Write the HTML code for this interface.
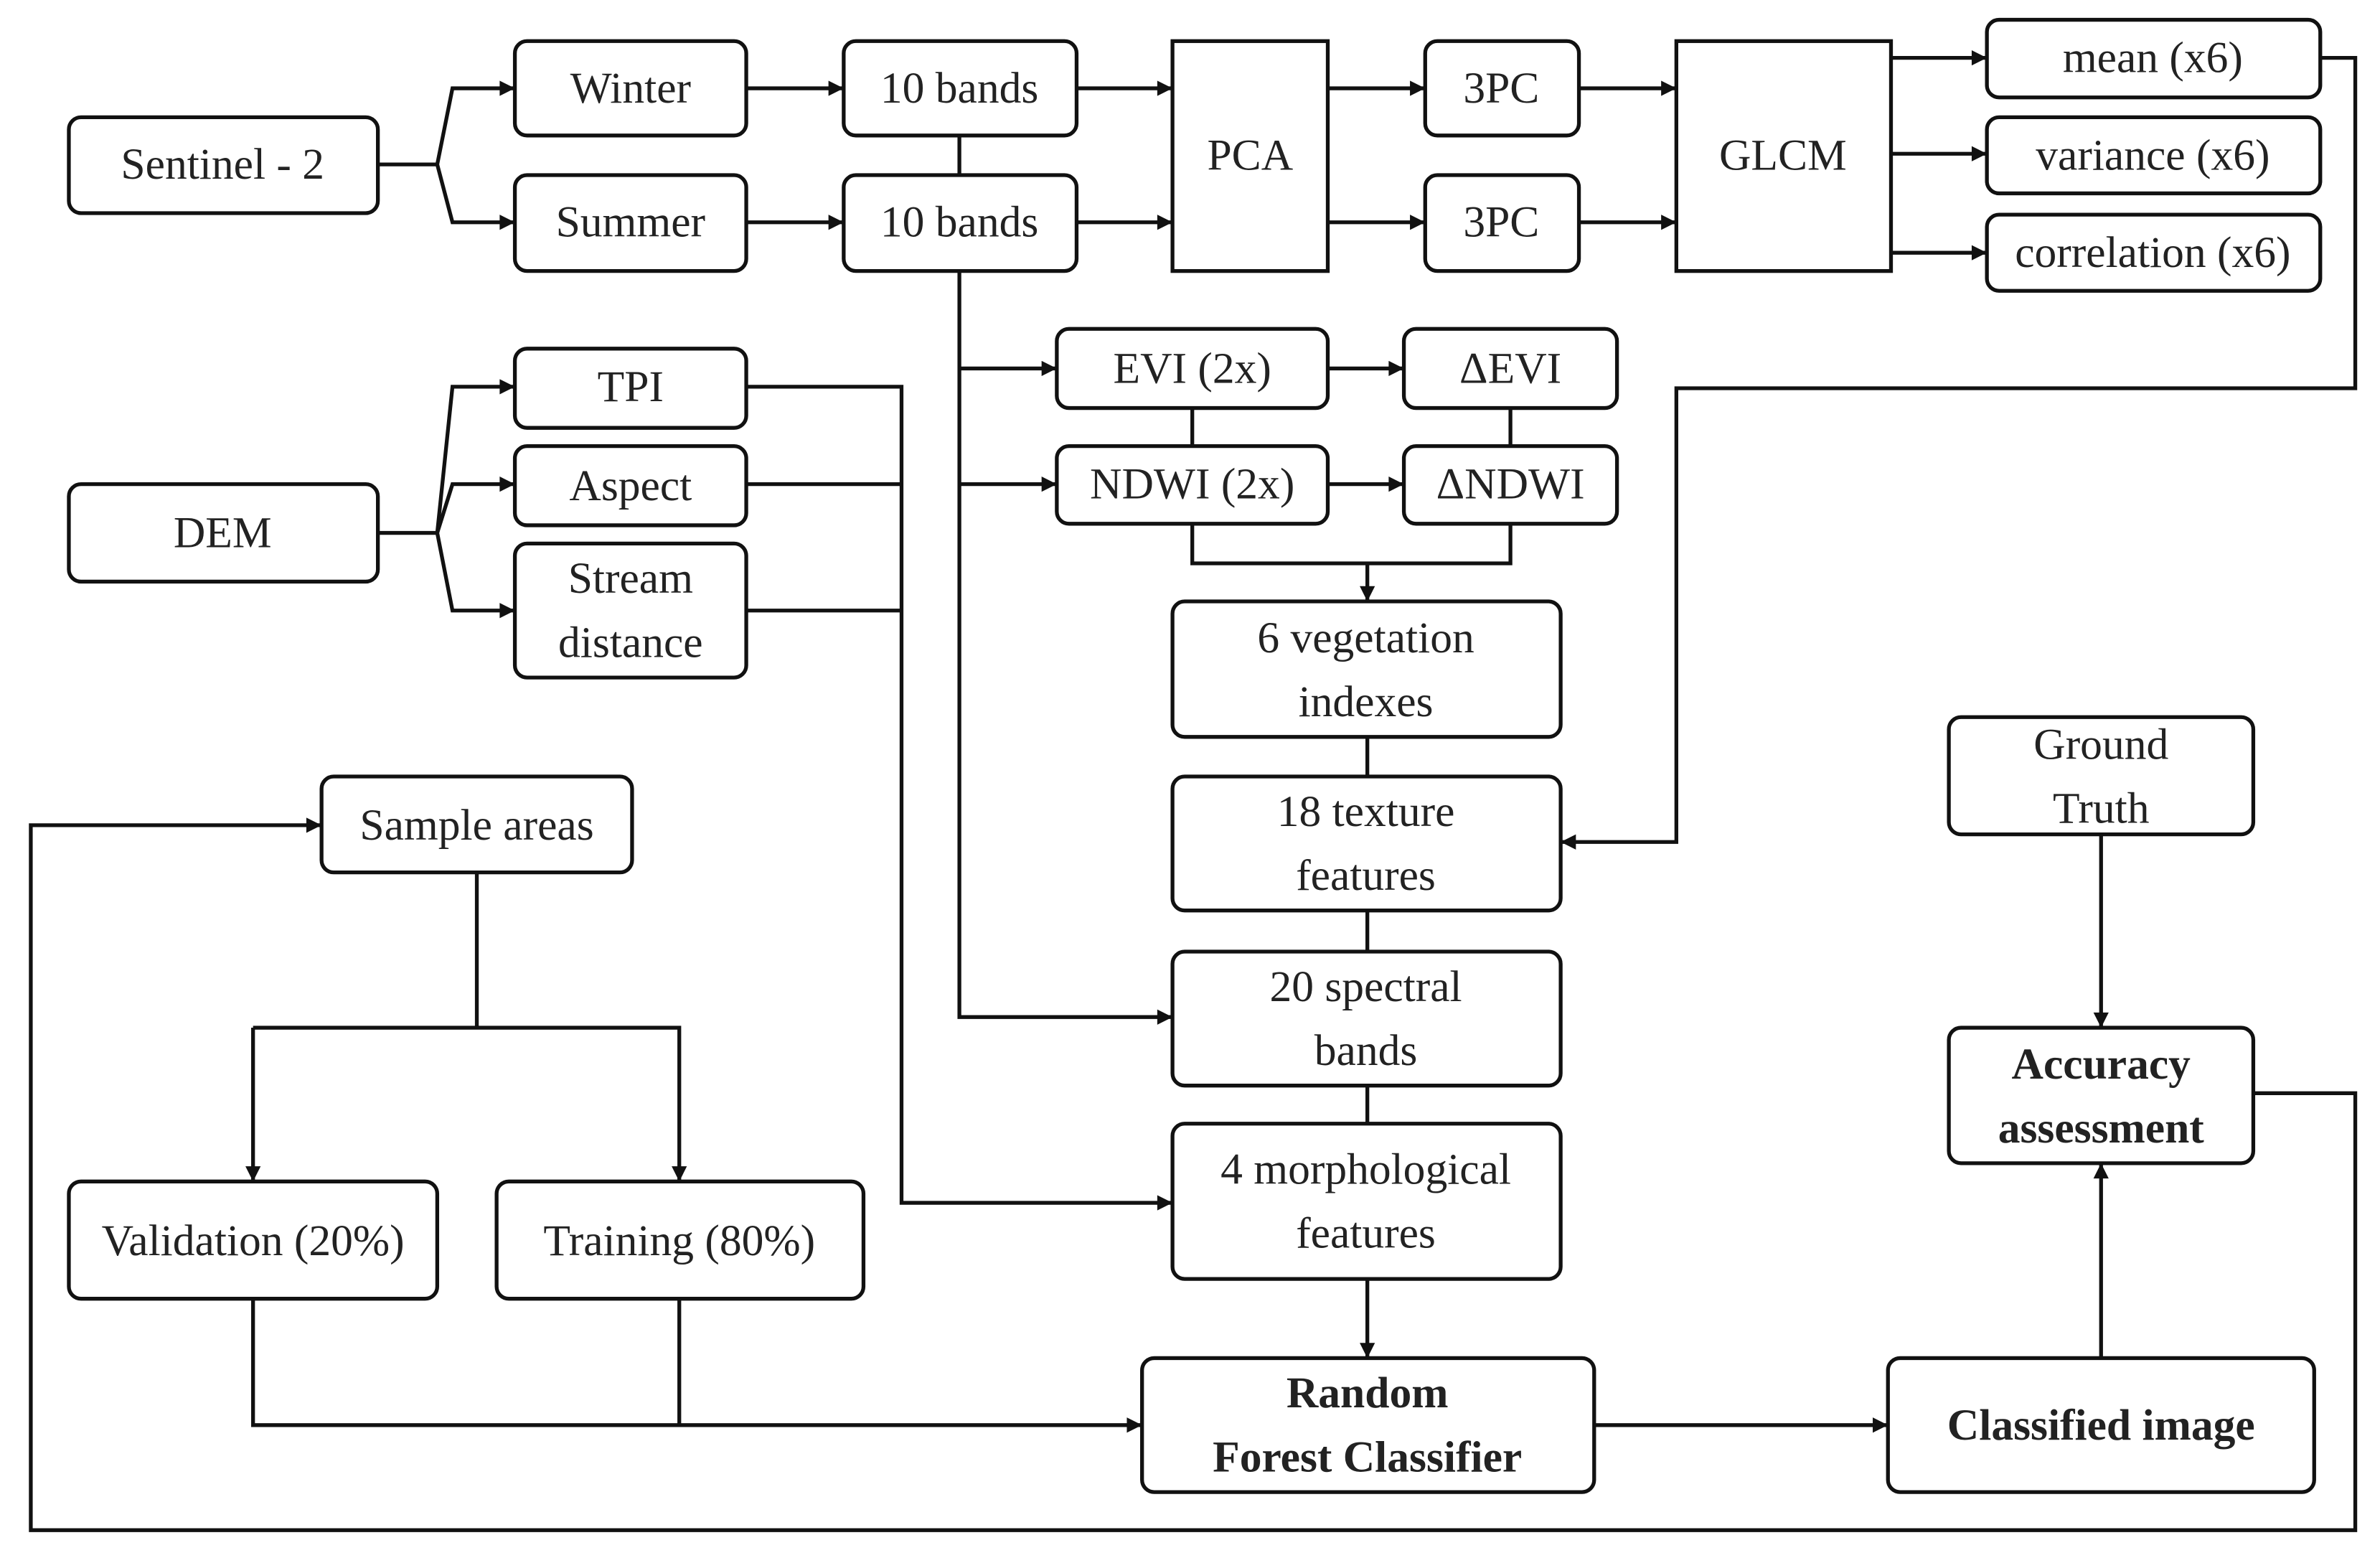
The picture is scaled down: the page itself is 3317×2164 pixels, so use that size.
<!DOCTYPE html>
<html><head><meta charset="utf-8"><style>
html,body{margin:0;padding:0;background:#fff;}
svg{display:block;}
text{font-family:"Liberation Serif",serif;font-size:29px;fill:#222;text-anchor:middle;dominant-baseline:central;}
.b{font-weight:bold;}
</style></head><body>
<svg width="3317" height="2164" viewBox="0 0 1563 1020" xmlns="http://www.w3.org/2000/svg">
<defs><marker id="a" viewBox="0 0 10 10" refX="10" refY="5" markerWidth="11" markerHeight="10" markerUnits="userSpaceOnUse" orient="auto"><path d="M0,0 L10,5 L0,10 z" fill="#111"/></marker></defs>
<g fill="none" stroke="#111" stroke-width="2.5">
<rect x="45" y="77" width="203" height="63" rx="8"/>
<rect x="338" y="27" width="152" height="62" rx="8"/>
<rect x="338" y="115" width="152" height="63" rx="8"/>
<rect x="554" y="27" width="153" height="62" rx="8"/>
<rect x="554" y="115" width="153" height="63" rx="8"/>
<rect x="770" y="27" width="102" height="151"/>
<rect x="936" y="27" width="101" height="62" rx="8"/>
<rect x="936" y="115" width="101" height="63" rx="8"/>
<rect x="1101" y="27" width="141" height="151"/>
<rect x="1305" y="13" width="219" height="51" rx="8"/>
<rect x="1305" y="77" width="219" height="50" rx="8"/>
<rect x="1305" y="141" width="219" height="50" rx="8"/>
<rect x="45" y="318" width="203" height="64" rx="8"/>
<rect x="338" y="229" width="152" height="52" rx="8"/>
<rect x="338" y="293" width="152" height="52" rx="8"/>
<rect x="338" y="357" width="152" height="88" rx="8"/>
<rect x="694" y="216" width="178" height="52" rx="8"/>
<rect x="922" y="216" width="140" height="52" rx="8"/>
<rect x="694" y="293" width="178" height="51" rx="8"/>
<rect x="922" y="293" width="140" height="51" rx="8"/>
<rect x="770" y="395" width="255" height="89" rx="8"/>
<rect x="770" y="510" width="255" height="88" rx="8"/>
<rect x="770" y="625" width="255" height="88" rx="8"/>
<rect x="770" y="738" width="255" height="102" rx="8"/>
<rect x="750" y="892" width="297" height="88" rx="8"/>
<rect x="1240" y="892" width="280" height="88" rx="8"/>
<rect x="1280" y="471" width="200" height="77" rx="8"/>
<rect x="1280" y="675" width="200" height="89" rx="8"/>
<rect x="211" y="510" width="204" height="63" rx="8"/>
<rect x="45" y="776" width="242" height="77" rx="8"/>
<rect x="326" y="776" width="241" height="77" rx="8"/>
<path d="M248,108 H287 L297,58 H338" marker-end="url(#a)"/>
<path d="M287,108 L297,146 H338" marker-end="url(#a)"/>
<path d="M490,58 H554" marker-end="url(#a)"/>
<path d="M490,146 H554" marker-end="url(#a)"/>
<path d="M630,89 V115"/>
<path d="M707,58 H770" marker-end="url(#a)"/>
<path d="M707,146 H770" marker-end="url(#a)"/>
<path d="M872,58 H936" marker-end="url(#a)"/>
<path d="M872,146 H936" marker-end="url(#a)"/>
<path d="M1037,58 H1101" marker-end="url(#a)"/>
<path d="M1037,146 H1101" marker-end="url(#a)"/>
<path d="M1242,38 H1305" marker-end="url(#a)"/>
<path d="M1242,101 H1305" marker-end="url(#a)"/>
<path d="M1242,166 H1305" marker-end="url(#a)"/>
<path d="M1524,38 H1547 V255 H1101 V553 H1025" marker-end="url(#a)"/>
<path d="M248,350 H287 L297,254 H338" marker-end="url(#a)"/>
<path d="M287,350 L297,318 H338" marker-end="url(#a)"/>
<path d="M287,350 L297,401 H338" marker-end="url(#a)"/>
<path d="M490,254 H592 V790 H770" marker-end="url(#a)"/>
<path d="M490,318 H592"/>
<path d="M490,401 H592"/>
<path d="M630,178 V668 H770" marker-end="url(#a)"/>
<path d="M630,242 H694" marker-end="url(#a)"/>
<path d="M630,318 H694" marker-end="url(#a)"/>
<path d="M872,242 H922" marker-end="url(#a)"/>
<path d="M872,318 H922" marker-end="url(#a)"/>
<path d="M783,268 V293"/>
<path d="M992,268 V293"/>
<path d="M783,344 V370 H992 V344"/>
<path d="M898,370 V395" marker-end="url(#a)"/>
<path d="M898,484 V510"/>
<path d="M898,598 V625"/>
<path d="M898,713 V738"/>
<path d="M898,840 V892" marker-end="url(#a)"/>
<path d="M1047,936 H1240" marker-end="url(#a)"/>
<path d="M1380,892 V764" marker-end="url(#a)"/>
<path d="M1380,548 V675" marker-end="url(#a)"/>
<path d="M1480,718 H1547 V1005 H20 V542 H211" marker-end="url(#a)"/>
<path d="M313,573 V675"/>
<path d="M166,675 H446 V776" marker-end="url(#a)"/>
<path d="M166,675 V776" marker-end="url(#a)"/>
<path d="M166,853 V936 H750" marker-end="url(#a)"/>
<path d="M446,853 V936"/>
</g>
<text x="146" y="108">Sentinel - 2</text>
<text x="414" y="58">Winter</text>
<text x="414" y="146">Summer</text>
<text x="630" y="58">10 bands</text>
<text x="630" y="146">10 bands</text>
<text x="821" y="102">PCA</text>
<text x="986" y="58">3PC</text>
<text x="986" y="146">3PC</text>
<text x="1171" y="102">GLCM</text>
<text x="1414" y="38">mean (x6)</text>
<text x="1414" y="102">variance (x6)</text>
<text x="1414" y="166">correlation (x6)</text>
<text x="146" y="350">DEM</text>
<text x="414" y="254">TPI</text>
<text x="414" y="319">Aspect</text>
<text x="414" y="380">Stream</text>
<text x="414" y="422">distance</text>
<text x="783" y="242">EVI (2x)</text>
<text x="992" y="242">ΔEVI</text>
<text x="783" y="318">NDWI (2x)</text>
<text x="992" y="318">ΔNDWI</text>
<text x="897" y="419">6 vegetation</text>
<text x="897" y="461">indexes</text>
<text x="897" y="533">18 texture</text>
<text x="897" y="575">features</text>
<text x="897" y="648">20 spectral</text>
<text x="897" y="690">bands</text>
<text x="897" y="768">4 morphological</text>
<text x="897" y="810">features</text>
<text class="b" x="898" y="915">Random</text>
<text class="b" x="898" y="957">Forest Classifier</text>
<text class="b" x="1380" y="936">Classified image</text>
<text x="1380" y="489">Ground</text>
<text x="1380" y="531">Truth</text>
<text class="b" x="1380" y="699">Accuracy</text>
<text class="b" x="1380" y="741">assessment</text>
<text x="313" y="542">Sample areas</text>
<text x="166" y="815">Validation (20%)</text>
<text x="446" y="815">Training (80%)</text>
</svg>
</body></html>
